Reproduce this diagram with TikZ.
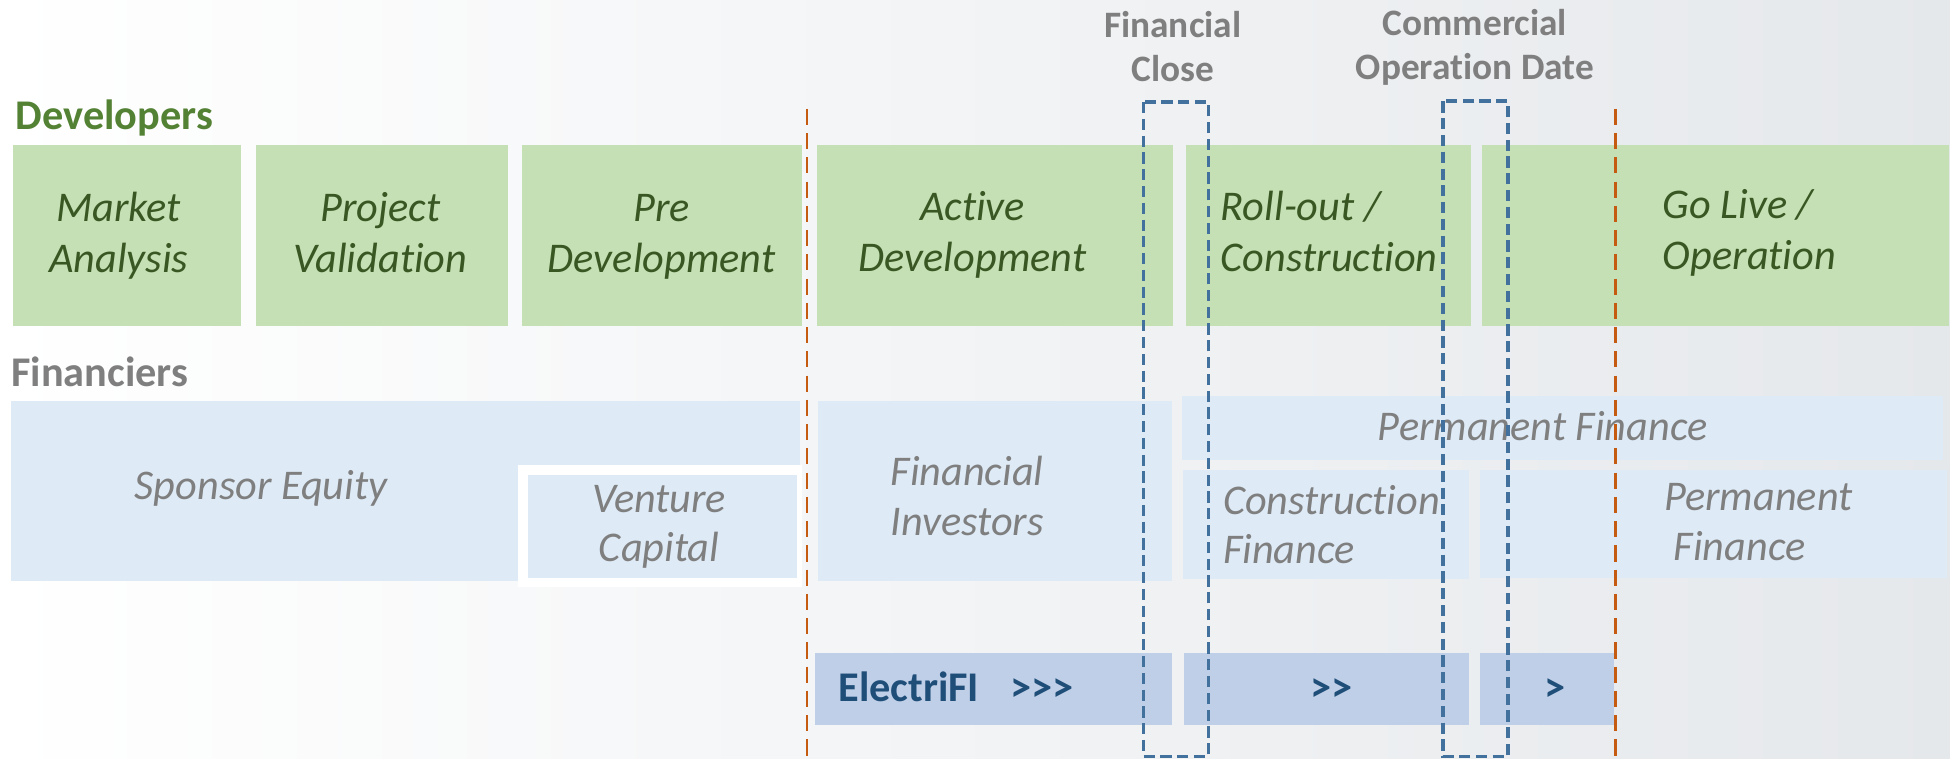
\documentclass[tikz,border=0pt]{standalone}
\usepackage{fontspec}
\setmainfont{Carlito}[Ligatures=NoCommon]
\usetikzlibrary{positioning}

\definecolor{devgreen}{HTML}{548235}
\definecolor{devfill}{HTML}{C5E0B4}
\definecolor{devtext}{HTML}{385723}
\definecolor{finfill}{HTML}{DEEBF7}
\definecolor{fingray}{HTML}{7F7F7F}
\definecolor{barfill}{HTML}{BFCFE8}
\definecolor{bartext}{HTML}{1F4E79}
\definecolor{closeblue}{HTML}{41719C}
\definecolor{limitorange}{HTML}{C55A11}
\definecolor{bgright}{HTML}{E5E8EB}

\begin{document}
\begin{tikzpicture}[x=1pt, y=-1pt,
    greenbox/.style={rectangle, fill=devfill, inner sep=0pt, minimum height=146pt},
    bluebox/.style={rectangle, fill=finfill, inner sep=0pt, anchor=north west},
    barbox/.style={rectangle, fill=barfill, inner sep=0pt, minimum height=58.4pt},
    headtext/.style={anchor=base west, inner sep=0pt, font=\fontsize{34}{41}\selectfont\bfseries},
    milestone/.style={anchor=base, align=center, inner sep=0pt, text=fingray, font=\fontsize{30}{35.7}\selectfont\bfseries},
    phasetext/.style={anchor=base, align=center, inner sep=0pt, text=devtext, font=\fontsize{34}{41}\selectfont\itshape},
    fintext/.style={anchor=base, align=center, inner sep=0pt, text=fingray, font=\fontsize{34}{39.5}\selectfont\itshape},
    bartxt/.style={anchor=base, inner sep=0pt, text=bartext, font=\fontsize{34}{41}\selectfont\bfseries},
    closeline/.style={draw=closeblue, line width=3pt, dash pattern=on 9pt off 4.5pt},
    limitline/.style={draw=limitorange, line width=2pt, dash pattern=on 13pt off 6.5pt},
  ]
  % background
  \shade[left color=white, right color=bgright] (0,0) rectangle (1568,610.3);
  \useasboundingbox (0,0) rectangle (1568,610.3);

  % headings
  \node[headtext, text=devgreen] (developers) at (12.6,104.5) {Developers};
  \node[headtext, text=fingray]  (financiers) at (9,310.4) {Financiers};
  \node[milestone] (fclose) at (943,65.7) {Financial\\Close};
  \node[milestone] (cod)    at (1186,64.3) {Commercial\\Operation Date};

  % Developers row
  \node[greenbox, minimum width=183.5pt, anchor=north west] (market) at (10.4,116) {};
  \node[greenbox, minimum width=202.8pt] (project) [right=11.1pt of market] {};
  \node[greenbox, minimum width=225pt]   (predev)  [right=11.2pt of project] {};
  \node[greenbox, minimum width=286.5pt] (active)  [right=11.5pt of predev] {};
  \node[greenbox, minimum width=229pt]   (rollout) [right=10pt of active] {};
  \node[greenbox, minimum width=376pt]   (golive)  [right=8.3pt of rollout] {};

  \node[phasetext] (market_t)  at (95.5,219.5) {Market\\Analysis};
  \node[phasetext] (project_t) at (306,219.5) {Project\\Validation};
  \node[phasetext] (predev_t)  at (532,219.5) {Pre\\Development};
  \node[phasetext] (active_t)  at (782,218.5) {Active\\Development};
  \node[phasetext, align=left, anchor=base west] (rollout_t) at (981.5,218.5) {Roll-out /\\Construction};
  \node[phasetext, align=left, anchor=base west] (golive_t)  at (1337,217) {Go Live /\\Operation};

  % Financiers row
  \node[bluebox, minimum width=634pt, minimum height=145pt] (sponsor) at (9,322) {};
  \fill[white] (416.5,374) rectangle (645,471.7);
  \node[bluebox, minimum width=217pt, minimum height=83.1pt] (venture) at (424,381.4) {};
  \node[bluebox, minimum width=284.6pt, minimum height=144.5pt] (investors) at (657.8,322.5) {};
  \node[bluebox, minimum width=612.1pt, minimum height=50.9pt] (permtop) at (950.4,318.5) {};
  \node[bluebox, minimum width=229.7pt, minimum height=87.7pt] (construct) at (951.3,377.4) {};
  \node[bluebox, minimum width=376pt, minimum height=86.5pt] (permbot) at (1189.6,378) {};

  \node[fintext] (sponsor_t) at (210,402) {Sponsor Equity};
  \node[fintext] (venture_t) at (530,451.7) {Venture\\Capital};
  \node[fintext, align=left, anchor=base west] (investors_t) at (716,430.2) {Financial\\Investors};
  \node[fintext] (permtop_t) at (1240.6,353.8) {Permanent Finance};
  \node[fintext, align=left, anchor=base west] (construct_t) at (983.3,453) {Construction\\Finance};
  \node[fintext, align=left, anchor=base west] (permbot_t) at (1338,450.3) {Permanent\\\hspace*{7.7pt}Finance};

  % ElectriFI row
  \node[barbox, minimum width=287.4pt, anchor=north west] (elec1) at (655,524.6) {};
  \node[barbox, minimum width=229pt, anchor=north west]   (elec2) at (952,524.6) {};
  \node[barbox, minimum width=108.4pt, anchor=north west] (elec3) at (1189.6,524.6) {};
  \node[bartxt, anchor=base west] (elec1_t) at (674,564) {ElectriFI};
  \node[bartxt, anchor=base west] (elec1_a) at (812,564) {>\kern0pt>\kern0pt>};
  \node[bartxt] (elec2_a) at (1070.7,564) {>\kern0pt>};
  \node[bartxt] (elec3_a) at (1250,564) {>};

  % phase limits
  \draw[limitline] (649,87.5) -- (649,610.3);
  \draw[limitline] (1299.2,87.5) -- (1299.2,610.3);

  % milestones
  \draw[closeline] (919.4,82) rectangle (971.7,608.4);
  \draw[closeline] (1160.2,81.5) rectangle (1212.7,608.4);
\end{tikzpicture}
\end{document}
